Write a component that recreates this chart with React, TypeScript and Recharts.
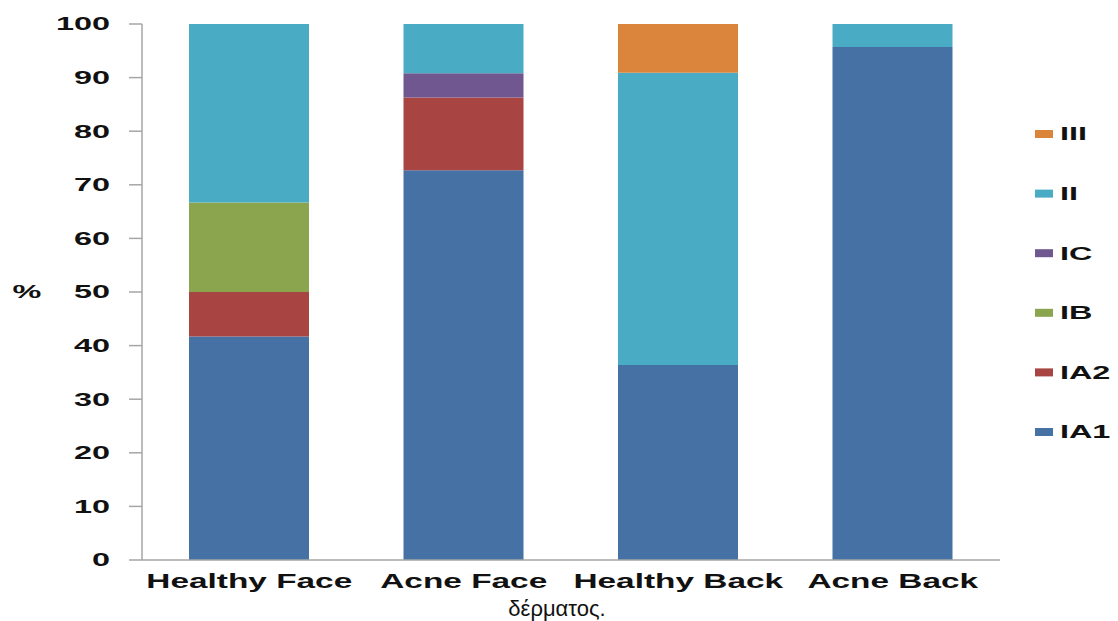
import { BarChart, Bar, XAxis, YAxis, Legend, Label } from 'recharts';

const CATEGORIES = ['Healthy Face', 'Acne Face', 'Healthy Back', 'Acne Back'];
const IA1 = [41.7, 72.7, 36.4, 95.7];
const IA2 = [8.3, 13.6, 0, 0];
const IB = [16.7, 0, 0, 0];
const IC = [0, 4.5, 0, 0];
const II = [33.3, 9.2, 54.5, 4.3];
const III = [0, 0, 9.1, 0];
const Y_TICKS = [0, 10, 20, 30, 40, 50, 60, 70, 80, 90, 100];

const SERIES = [
  { key: 'IA1', values: IA1, color: '#4571a5' },
  { key: 'IA2', values: IA2, color: '#a84543' },
  { key: 'IB', values: IB, color: '#8ba54e' },
  { key: 'IC', values: IC, color: '#71578f' },
  { key: 'II', values: II, color: '#4aabc5' },
  { key: 'III', values: III, color: '#db843c' },
];

const data = CATEGORIES.map((name, i) => {
  const row: Record<string, string | number> = { name };
  SERIES.forEach((s) => {
    row[s.key] = s.values[i];
  });
  return row;
});

const FONT = '"Liberation Sans", Arial, sans-serif';

// the source image is stretched sideways, so the bold labels get a scaleX
const XTick = ({ x, y, payload }: any) => (
  <g transform={`translate(${x},${y})`}>
    <text x={0} y={28} textAnchor="middle" transform="scale(1.67,1)" fontSize={20} fontWeight="bold" fill="#111" fontFamily={FONT}>
      {payload.value}
    </text>
  </g>
);

const YTick = ({ x, y, payload }: any) => (
  <g transform={`translate(${x},${y})`}>
    <text x={0} y={0} dy="0.36em" textAnchor="end" transform="scale(1.8,1)" fontSize={18} fontWeight="bold" fill="#111" fontFamily={FONT}>
      {payload.value}
    </text>
  </g>
);

const LegendBox = () => (
  <svg width={90} height={340}>
    {[...SERIES].reverse().map((s, i) => {
      const cy = 26 + i * 59.6;
      return (
        <g key={s.key}>
          <rect x={0} y={cy - 4} width={18} height={8} fill={s.color} />
          <g transform={`translate(25,${cy})`}>
            <text x={0} y={0} dy="0.36em" transform="scale(1.8,1)" fontSize={18} fontWeight="bold" fill="#111" fontFamily={FONT}>
              {s.key}
            </text>
          </g>
        </g>
      );
    })}
  </svg>
);

export default function App() {
  return (
    <div style={{ width: 1102, height: 613, background: '#fff' }}>
      <BarChart width={1102} height={613} data={data} margin={{ top: 16, right: 110, bottom: 0, left: 0 }}>
        <XAxis
          dataKey="name"
          height={61}
          tickSize={0}
          tickMargin={0}
          tickLine={false}
          axisLine={{ stroke: '#a6a6a6', strokeWidth: 1.5 }}
          tick={<XTick />}
        >
          <Label
            content={({ viewBox }: any) => (
              <text
                x={viewBox.x + viewBox.width / 2 - 14}
                y={viewBox.y + 56}
                textAnchor="middle"
                fontSize={22}
                fill="#111"
                fontFamily={FONT}
              >
                δέρματος.
              </text>
            )}
          />
        </XAxis>
        <YAxis
          width={134}
          domain={[0, 100]}
          ticks={Y_TICKS}
          interval={0}
          tickSize={13}
          tickMargin={19}
          axisLine={{ stroke: '#a6a6a6', strokeWidth: 1.5 }}
          tickLine={{ stroke: '#a6a6a6', strokeWidth: 1.5 }}
          tick={<YTick />}
        >
          <Label
            content={({ viewBox }: any) => (
              <g transform={`translate(${viewBox.x + 19},${viewBox.y + viewBox.height / 2})`}>
                <text x={0} y={0} dy="0.36em" textAnchor="middle" transform="scale(1.8,1)" fontSize={18} fontWeight="bold" fill="#111" fontFamily={FONT}>
                  %
                </text>
              </g>
            )}
          />
        </YAxis>
        <Legend
          layout="vertical"
          align="center"
          verticalAlign="middle"
          content={<LegendBox />}
          wrapperStyle={{ left: 1027, top: 100, width: 90, height: 340 }}
        />
        {SERIES.map((s) => (
          <Bar key={s.key} dataKey={s.key} stackId="a" fill={s.color} barSize={120} isAnimationActive={false} />
        ))}
      </BarChart>
    </div>
  );
}
